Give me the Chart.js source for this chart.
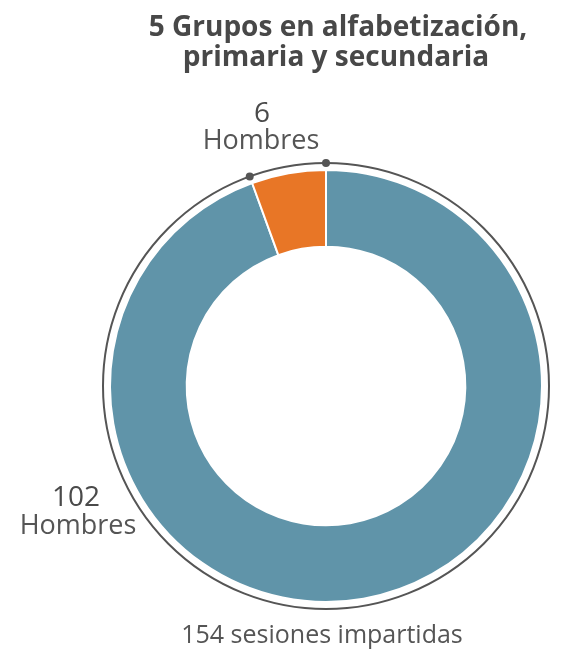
<!DOCTYPE html>
<html lang="es">
<head>
    <meta charset="UTF-8">
    <title>5 Grupos en alfabetización, primaria y secundaria</title>
    <style>
        html, body { margin: 0; padding: 0; background: #fff; }
        #wrap { width: 561px; height: 649px; position: relative; }
    </style>
</head>
<body>
    <div id="wrap">
        <canvas id="grupos-chart" width="561" height="649"></canvas>
    </div>
    <script src="https://cdn.jsdelivr.net/npm/chart.js"></script>
    <script>
    // Datos
    const categorias = ['Hombres (grupo principal)', 'Hombres (grupo pequeño)'];
    const valores = [102, 6];
    const colores = ['#6094a9', '#e87626'];
    const etiquetaUnidad = 'Hombres';
    const titulo = ['5 Grupos en alfabetización,', 'primaria y secundaria'];
    const pie = '154 sesiones impartidas';

    // Aro exterior con puntos en los límites de cada segmento + textos
    const aroExterior = {
        id: 'aroExterior',
        afterDatasetsDraw(chart) {
            const ctx = chart.ctx;
            const arcs = chart.getDatasetMeta(0).data;
            if (!arcs.length) return;
            const cx = arcs[0].x, cy = arcs[0].y;
            const r = arcs[0].outerRadius + 7;

            ctx.save();
            ctx.strokeStyle = '#555';
            ctx.lineWidth = 2;
            ctx.beginPath();
            ctx.arc(cx, cy, r, 0, Math.PI * 2);
            ctx.stroke();

            ctx.fillStyle = '#555';
            arcs.forEach(function(a, i) {
                if (i === 0) return; // sólo los límites del segmento pequeño
                [a.startAngle, a.endAngle].forEach(function(ang) {
                    ctx.beginPath();
                    ctx.arc(cx + r * Math.cos(ang), cy + r * Math.sin(ang), 4, 0, Math.PI * 2);
                    ctx.fill();
                });
            });
            ctx.restore();
        },
        afterDraw(chart) {
            const ctx = chart.ctx;
            ctx.save();
            ctx.textAlign = 'center';
            ctx.textBaseline = 'alphabetic';

            // titulo
            ctx.fillStyle = '#484848';
            ctx.font = '700 28px "Open Sans"';
            ctx.fillText(titulo[0], 338, 36);
            ctx.fillText(titulo[1], 336, 66);

            // etiquetas de valores
            ctx.fillStyle = '#4a4a4a';
            ctx.font = '500 28px "Open Sans"';
            ctx.fillText(String(valores[1]), 262, 122);
            ctx.fillText(String(valores[0]), 76, 506);
            ctx.fillStyle = '#555';
            ctx.font = '400 27px "Open Sans"';
            ctx.fillText(etiquetaUnidad, 261, 149);
            ctx.fillText(etiquetaUnidad, 78, 534);

            // pie
            ctx.font = '400 25px "Open Sans"';
            ctx.fillText(pie, 322, 643);
            ctx.restore();
        }
    };

    const ctx = document.getElementById('grupos-chart').getContext('2d');
    new Chart(ctx, {
        type: 'doughnut',
        data: {
            labels: categorias,
            datasets: [{
                data: valores,
                backgroundColor: colores,
                borderColor: '#fff',
                borderWidth: 2,
                hoverOffset: 0
            }]
        },
        options: {
            responsive: false,
            animation: false,
            cutout: '64.5%',
            layout: { padding: { left: 109, right: 18, top: 169, bottom: 46 } },
            plugins: {
                legend: { display: false },
                title: { display: false },
                tooltip: { enabled: false }
            }
        },
        plugins: [aroExterior]
    });
    </script>
</body>
</html>
